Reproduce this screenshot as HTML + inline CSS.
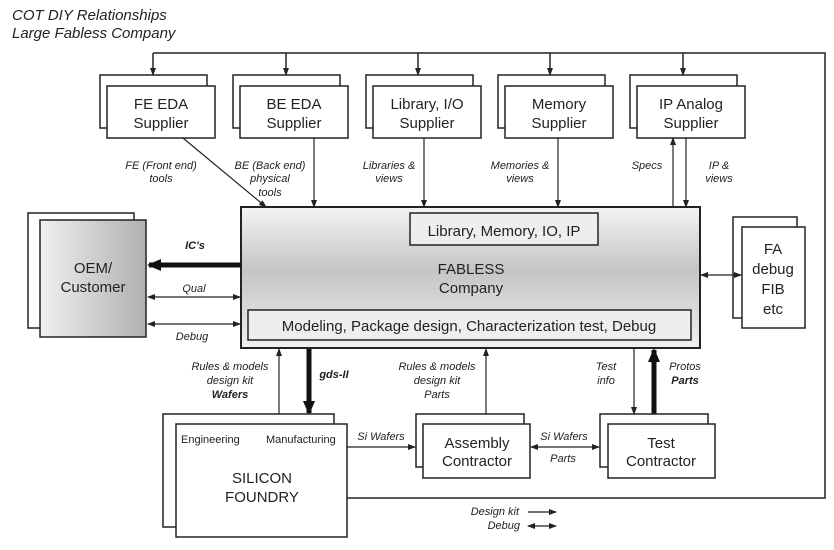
<!DOCTYPE html>
<html><head><meta charset="utf-8"><style>
body{margin:0;background:#fff}
svg{display:block}
text{font-family:"Liberation Sans",sans-serif;fill:#222}
.it{font-style:italic;font-size:11px}
.b{font-size:15px}
</style></head><body>
<svg width="834" height="550" viewBox="0 0 834 550">
<defs>
<marker id="a" markerWidth="8" markerHeight="6" refX="7" refY="3" orient="auto" markerUnits="userSpaceOnUse"><path d="M0,0 L8,3 L0,6z" fill="#222"/></marker>
<marker id="s" markerWidth="8" markerHeight="6" refX="1" refY="3" orient="auto" markerUnits="userSpaceOnUse"><path d="M8,0 L0,3 L8,6z" fill="#222"/></marker>
<marker id="T" markerWidth="14" markerHeight="12" refX="12" refY="6" orient="auto" markerUnits="userSpaceOnUse"><path d="M0,0 L14,6 L0,12z" fill="#111"/></marker>
<linearGradient id="g" x1="0" y1="0" x2="0" y2="1"><stop offset="0" stop-color="#f4f4f4"/><stop offset="0.45" stop-color="#c4c4c4"/><stop offset="1" stop-color="#f0f0f0"/></linearGradient>
<linearGradient id="g2" x1="0" y1="0" x2="1" y2="0"><stop offset="0" stop-color="#f0f0f0"/><stop offset="1" stop-color="#b0b0b0"/></linearGradient>
</defs>
<text x="12" y="20" style="font-style:italic;font-size:15px">COT DIY Relationships</text>
<text x="12" y="38" style="font-style:italic;font-size:15px">Large Fabless Company</text>
<g stroke="#222" stroke-width="1.5" fill="none">
<path d="M153,53 H825 V498 H347"/>
<line x1="153" y1="53" x2="153" y2="75" marker-end="url(#a)"/>
<line x1="286" y1="53" x2="286" y2="75" marker-end="url(#a)"/>
<line x1="418" y1="53" x2="418" y2="75" marker-end="url(#a)"/>
<line x1="550" y1="53" x2="550" y2="75" marker-end="url(#a)"/>
<line x1="683" y1="53" x2="683" y2="75" marker-end="url(#a)"/>
</g>
<g stroke="#222" stroke-width="1.5" fill="#fff">
<rect x="100" y="75" width="107" height="53"/><rect x="107" y="86" width="108" height="52"/>
<rect x="233" y="75" width="107" height="53"/><rect x="240" y="86" width="108" height="52"/>
<rect x="366" y="75" width="107" height="53"/><rect x="373" y="86" width="108" height="52"/>
<rect x="498" y="75" width="107" height="53"/><rect x="505" y="86" width="108" height="52"/>
<rect x="630" y="75" width="107" height="53"/><rect x="637" y="86" width="108" height="52"/>
</g>
<g class="b" text-anchor="middle">
<text x="161" y="109">FE EDA</text><text x="161" y="128">Supplier</text>
<text x="294" y="109">BE EDA</text><text x="294" y="128">Supplier</text>
<text x="427" y="109">Library, I/O</text><text x="427" y="128">Supplier</text>
<text x="559" y="109">Memory</text><text x="559" y="128">Supplier</text>
<text x="691" y="109">IP Analog</text><text x="691" y="128">Supplier</text>
</g>
<g stroke="#222" stroke-width="1.2" fill="none">
<line x1="183" y1="138" x2="266" y2="207" marker-end="url(#a)"/>
<line x1="314" y1="138" x2="314" y2="207" marker-end="url(#a)"/>
<line x1="424" y1="138" x2="424" y2="207" marker-end="url(#a)"/>
<line x1="558" y1="138" x2="558" y2="207" marker-end="url(#a)"/>
<line x1="673" y1="207" x2="673" y2="138" marker-end="url(#a)"/>
<line x1="686" y1="138" x2="686" y2="207" marker-end="url(#a)"/>
</g>
<g class="it" text-anchor="middle">
<text x="161" y="169">FE (Front end)</text><text x="161" y="182">tools</text>
<text x="270" y="169">BE (Back end)</text><text x="270" y="182">physical</text><text x="270" y="196">tools</text>
<text x="389" y="169">Libraries &amp;</text><text x="389" y="182">views</text>
<text x="520" y="169">Memories &amp;</text><text x="520" y="182">views</text>
<text x="647" y="169">Specs</text>
<text x="719" y="169">IP &amp;</text><text x="719" y="182">views</text>
</g>
<rect x="241" y="207" width="459" height="141" fill="url(#g)" stroke="#222" stroke-width="2"/>
<rect x="410" y="213" width="188" height="32" fill="#eee" stroke="#222" stroke-width="1.5"/>
<text x="504" y="236" class="b" text-anchor="middle">Library, Memory, IO, IP</text>
<text x="471" y="274" class="b" text-anchor="middle">FABLESS</text>
<text x="471" y="293" class="b" text-anchor="middle">Company</text>
<rect x="248" y="310" width="443" height="30" fill="#eee" stroke="#222" stroke-width="1.5"/>
<text x="469" y="331" class="b" text-anchor="middle">Modeling, Package design, Characterization test, Debug</text>
<rect x="28" y="213" width="106" height="115" fill="#fff" stroke="#222" stroke-width="1.5"/>
<rect x="40" y="220" width="106" height="117" fill="url(#g2)" stroke="#222" stroke-width="1.5"/>
<text x="93" y="273" class="b" text-anchor="middle">OEM/</text>
<text x="93" y="292" class="b" text-anchor="middle">Customer</text>
<line x1="241" y1="265" x2="149" y2="265" stroke="#111" stroke-width="5" marker-end="url(#T)"/>
<text x="195" y="249" class="it" text-anchor="middle" font-weight="bold">IC's</text>
<line x1="148" y1="297" x2="240" y2="297" stroke="#222" stroke-width="1.2" marker-start="url(#s)" marker-end="url(#a)"/>
<text x="194" y="292" class="it" text-anchor="middle">Qual</text>
<line x1="148" y1="324" x2="240" y2="324" stroke="#222" stroke-width="1.2" marker-start="url(#s)" marker-end="url(#a)"/>
<text x="192" y="340" class="it" text-anchor="middle">Debug</text>
<rect x="733" y="217" width="64" height="101" fill="#fff" stroke="#222" stroke-width="1.5"/>
<rect x="742" y="227" width="63" height="101" fill="#fff" stroke="#222" stroke-width="1.5"/>
<g class="b" text-anchor="middle"><text x="773" y="254">FA</text><text x="773" y="274">debug</text><text x="773" y="294">FIB</text><text x="773" y="314">etc</text></g>
<line x1="701" y1="275" x2="741" y2="275" stroke="#222" stroke-width="1.2" marker-start="url(#s)" marker-end="url(#a)"/>
<g stroke="#222" stroke-width="1.2" fill="none">
<line x1="279" y1="414" x2="279" y2="349" marker-end="url(#a)"/>
<line x1="486" y1="414" x2="486" y2="349" marker-end="url(#a)"/>
<line x1="634" y1="349" x2="634" y2="414" marker-end="url(#a)"/>
</g>
<line x1="309" y1="349" x2="309" y2="413" stroke="#111" stroke-width="5" marker-end="url(#T)"/>
<line x1="654" y1="414" x2="654" y2="350" stroke="#111" stroke-width="5" marker-end="url(#T)"/>
<g class="it" text-anchor="middle">
<text x="230" y="370">Rules &amp; models</text><text x="230" y="384">design kit</text><text x="230" y="398" font-weight="bold">Wafers</text>
<text x="334" y="378" font-weight="bold">gds-II</text>
<text x="437" y="370">Rules &amp; models</text><text x="437" y="384">design kit</text><text x="437" y="398">Parts</text>
<text x="606" y="370">Test</text><text x="606" y="384">info</text>
<text x="685" y="370">Protos</text><text x="685" y="384" font-weight="bold">Parts</text>
</g>
<rect x="163" y="414" width="171" height="113" fill="#fff" stroke="#222" stroke-width="1.5"/>
<rect x="176" y="424" width="171" height="113" fill="#fff" stroke="#222" stroke-width="1.5"/>
<text x="181" y="443" font-size="11">Engineering</text>
<text x="266" y="443" font-size="11">Manufacturing</text>
<text x="262" y="483" class="b" text-anchor="middle">SILICON</text>
<text x="262" y="502" class="b" text-anchor="middle">FOUNDRY</text>
<rect x="416" y="414" width="108" height="53" fill="#fff" stroke="#222" stroke-width="1.5"/>
<rect x="423" y="424" width="107" height="54" fill="#fff" stroke="#222" stroke-width="1.5"/>
<text x="477" y="448" class="b" text-anchor="middle">Assembly</text><text x="477" y="466" class="b" text-anchor="middle">Contractor</text>
<rect x="600" y="414" width="108" height="53" fill="#fff" stroke="#222" stroke-width="1.5"/>
<rect x="608" y="424" width="107" height="54" fill="#fff" stroke="#222" stroke-width="1.5"/>
<text x="661" y="448" class="b" text-anchor="middle">Test</text><text x="661" y="466" class="b" text-anchor="middle">Contractor</text>
<line x1="347" y1="447" x2="415" y2="447" stroke="#222" stroke-width="1.2" marker-end="url(#a)"/>
<line x1="531" y1="447" x2="599" y2="447" stroke="#222" stroke-width="1.2" marker-start="url(#s)" marker-end="url(#a)"/>
<g class="it" text-anchor="middle">
<text x="381" y="440">Si Wafers</text>
<text x="564" y="440">Si Wafers</text>
<text x="563" y="462">Parts</text>
<text x="519" y="515" text-anchor="end">Design kit</text>
<text x="520" y="529" text-anchor="end">Debug</text>
</g>
<line x1="528" y1="512" x2="556" y2="512" stroke="#222" stroke-width="1.2" marker-end="url(#a)"/>
<line x1="528" y1="526" x2="556" y2="526" stroke="#222" stroke-width="1.2" marker-start="url(#s)" marker-end="url(#a)"/>
</svg>
</body></html>
